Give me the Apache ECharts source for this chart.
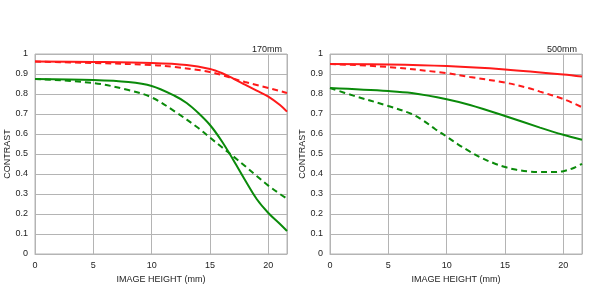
<!DOCTYPE html>
<html><head><meta charset="utf-8">
<script src="https://cdn.jsdelivr.net/npm/echarts@6/dist/echarts.min.js"></script>
<style>html,body{margin:0;padding:0;background:#fff}#c{width:600px;height:300px}</style>
</head><body><div id="c"></div>
<script>
const xTicks = [0, 5, 10, 15, 20];
const titles = ['170mm', '500mm'];
// 170mm
const l_x_rs = [0, 5, 10, 13, 15, 16, 17, 18, 19, 20, 21, 21.6];
const l_rs   = [0.962, 0.960, 0.955, 0.945, 0.925, 0.905, 0.877, 0.847, 0.817, 0.787, 0.745, 0.712];
const l_x_rd = [0, 5, 10, 12, 14, 15, 16, 17, 18, 19, 20, 21, 21.6];
const l_rd   = [0.962, 0.955, 0.945, 0.935, 0.920, 0.910, 0.895, 0.877, 0.860, 0.845, 0.830, 0.815, 0.805];
const l_x_gs = [0, 5, 8, 10, 12, 13, 14, 15, 16, 17, 18, 19, 20, 21, 21.6];
const l_gs   = [0.875, 0.870, 0.860, 0.840, 0.790, 0.755, 0.705, 0.645, 0.565, 0.470, 0.370, 0.275, 0.205, 0.150, 0.115];
const l_x_gd = [0, 5, 8, 10, 12, 14, 15, 16, 17, 18, 19, 20, 21, 21.6];
const l_gd   = [0.875, 0.855, 0.820, 0.783, 0.712, 0.630, 0.582, 0.535, 0.488, 0.440, 0.390, 0.342, 0.300, 0.276];
// 500mm
const r_x_rs = [0, 5, 10, 15, 20, 21.6];
const r_rs   = [0.950, 0.948, 0.940, 0.923, 0.898, 0.887];
const r_x_rd = [0, 5, 10, 12, 15, 17, 18, 20, 21.6];
const r_rd   = [0.950, 0.935, 0.904, 0.885, 0.857, 0.830, 0.812, 0.775, 0.734];
const r_x_gs = [0, 5, 7, 10, 12, 15, 18, 20, 21.6];
const r_gs   = [0.830, 0.815, 0.805, 0.774, 0.745, 0.690, 0.632, 0.596, 0.571];
const r_x_gd = [0, 2, 5, 7, 8, 9, 10, 11, 12, 13, 14, 15, 16, 17, 18, 19, 20, 21, 21.6];
const r_gd   = [0.830, 0.792, 0.740, 0.700, 0.667, 0.625, 0.587, 0.547, 0.512, 0.480, 0.455, 0.435, 0.421, 0.413, 0.410, 0.410, 0.414, 0.433, 0.451];

const RED = '#ff1a1a', GREEN = '#0a8a0a', GRID = '#b4b4b4', TXT = '#222';
const font = 'Liberation Sans, Arial, sans-serif';
function zip(xs, ys) { return xs.map((x, i) => [x, ys[i]]); }

const lefts = [35, 330];
const grids = lefts.map(l => ({left: l, top: 54, width: 252, height: 200, show: true, borderColor: GRID, borderWidth: 1, backgroundColor: 'transparent'}));
const xAxes = [0, 1].map(i => ({
  type: 'value', gridIndex: i, min: 0, max: 21.6, interval: 5,
  name: 'IMAGE HEIGHT (mm)', nameLocation: 'middle', nameGap: 18,
  nameTextStyle: {fontFamily: font, fontSize: 9, color: TXT},
  axisLine: {show: true, lineStyle: {color: GRID}}, axisTick: {show: false},
  axisLabel: {fontFamily: font, fontSize: 9, color: TXT, margin: 7, showMaxLabel: false,
    formatter: v => xTicks.includes(v) ? String(v) : ''},
  splitLine: {show: true, lineStyle: {color: GRID, width: 1}}
}));
const yAxes = [0, 1].map(i => ({
  type: 'value', gridIndex: i, min: 0, max: 1, interval: 0.1,
  name: 'CONTRAST', nameLocation: 'middle', nameGap: 21, nameRotate: 90,
  nameTextStyle: {fontFamily: font, fontSize: 9, color: TXT},
  axisLine: {show: false}, axisTick: {show: false},
  axisLabel: {fontFamily: font, fontSize: 9, color: TXT, margin: 7,
    formatter: v => (Math.round(v * 10) / 10).toString()},
  splitLine: {show: true, lineStyle: {color: GRID, width: 1}}
}));
function s(i, data, color, dashed) {
  return {type: 'line', xAxisIndex: i, yAxisIndex: i, data, smooth: 0.35, symbol: 'none',
    lineStyle: {color, width: 2, type: dashed ? [6, 4] : 'solid'}};
}
const series = [
  s(0, zip(l_x_rd, l_rd), RED, true), s(0, zip(l_x_rs, l_rs), RED, false),
  s(0, zip(l_x_gd, l_gd), GREEN, true), s(0, zip(l_x_gs, l_gs), GREEN, false),
  s(1, zip(r_x_rd, r_rd), RED, true), s(1, zip(r_x_rs, r_rs), RED, false),
  s(1, zip(r_x_gd, r_gd), GREEN, true), s(1, zip(r_x_gs, r_gs), GREEN, false)
];
const chart = echarts.init(document.getElementById('c'), null, {renderer: 'canvas'});
chart.setOption({
  animation: false, backgroundColor: '#fff',
  title: titles.map((t, i) => ({text: t, right: i === 0 ? 313 : 18, top: 40,
    textStyle: {fontFamily: font, fontSize: 9, fontWeight: 'normal', color: TXT}})),
  grid: grids, xAxis: xAxes, yAxis: yAxes, series
});
</script></body></html>
